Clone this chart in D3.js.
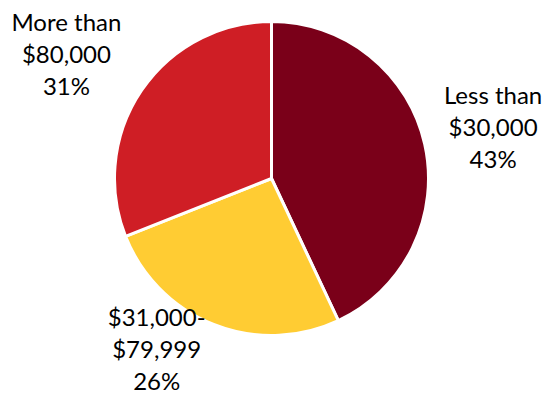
<!DOCTYPE html>
<html>
<head>
<meta charset="utf-8">
<script src="https://cdn.jsdelivr.net/npm/d3@7"></script>
<style>
  html, body { margin: 0; padding: 0; background: #fff; }
  svg { display: block; }
</style>
</head>
<body>
<svg id="chart" width="545" height="396"></svg>
<script>
// Income bands, share of respondents (%)
const categories = ["Less than\n$30,000", "$31,000-\n$79,999", "More than\n$80,000"];
const values = [43, 26, 31];
const colors = ["#7A0019", "#FFCC33", "#CF1E25"];

// Label layout: nudge from the slice's outer centroid
const labelShift = [[2, -1], [-32, -38], [-19, 3]];

const width = 545, height = 396;
const cx = 271.5, cy = 178.5, radius = 157;

const svg = d3.select("#chart");
const g = svg.append("g").attr("transform", `translate(${cx},${cy})`);

const pie = d3.pie().sort(null).value(d => d)(values);
const arc = d3.arc().innerRadius(0).outerRadius(radius);
const labelArc = d3.arc().innerRadius(225).outerRadius(225);

g.selectAll("path.slice")
  .data(pie)
  .join("path")
  .attr("class", "slice")
  .attr("d", arc)
  .attr("fill", (d, i) => colors[i])
  .attr("stroke", "#fff")
  .attr("stroke-width", 3)
  .attr("stroke-linejoin", "round");

const lineH = 32;
const labels = g.selectAll("text.label")
  .data(pie)
  .join("text")
  .attr("class", "label")
  .attr("text-anchor", "middle")
  .attr("font-family", "Lato, 'Open Sans', sans-serif")
  .attr("font-size", 24)
  .attr("fill", "#000")
  .attr("transform", (d, i) => {
    const [x, y] = labelArc.centroid(d);
    return `translate(${x + labelShift[i][0]},${y + labelShift[i][1]})`;
  });

labels.each(function(d, i) {
  const lines = categories[i].split("\n").concat([values[i] + "%"]);
  const t = d3.select(this);
  lines.forEach((ln, k) => {
    t.append("tspan")
      .attr("x", 0)
      .attr("y", (k - (lines.length - 1) / 2) * lineH + 8)
      .text(ln);
  });
});
</script>
</body>
</html>
